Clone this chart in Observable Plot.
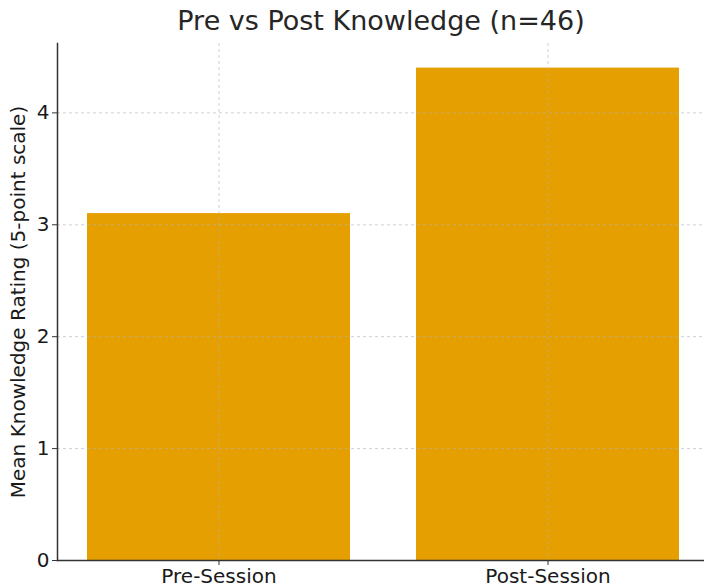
<!DOCTYPE html>
<html>
<head>
<meta charset="utf-8">
<script src="https://cdn.jsdelivr.net/npm/d3@7"></script>
<script src="https://cdn.jsdelivr.net/npm/@observablehq/plot@0.6"></script>
<style>
  html, body { margin: 0; padding: 0; background: #fff; }
  #chart svg { display: block; }
</style>
</head>
<body>
<div id="chart"></div>
<script>
const categories = ["Pre-Session", "Post-Session"];
const means = [3.1, 4.4];
const yTicks = [0, 1, 2, 3, 4];
const title = "Pre vs Post Knowledge (n=46)";
const yLabel = "Mean Knowledge Rating (5-point scale)";

const data = categories.map((c, i) => ({session: c, mean: means[i]}));
const font = "DejaVu Sans, sans-serif";

const chart = Plot.plot({
  width: 704,
  height: 588,
  marginTop: 43,
  marginBottom: 28,
  marginLeft: 57,
  marginRight: 0,
  style: {fontFamily: font, fontSize: "20px", color: "#1a1a1a", background: "#fff"},
  x: {domain: categories, range: [57, 709], paddingInner: 0.2, paddingOuter: 0.09, align: 0.5, label: null},
  y: {domain: [0, 4.62], range: [560, 43], label: null},
  marks: [
    Plot.barY(data, {x: "session", y: "mean", fill: "#E69F00"}),
    Plot.gridY(yTicks, {stroke: "#b0b0b0", strokeOpacity: 0.6, strokeDasharray: "3,3", strokeWidth: 1}),
    Plot.gridX(categories, {stroke: "#b0b0b0", strokeOpacity: 0.6, strokeDasharray: "3,3", strokeWidth: 1}),
    Plot.axisY(yTicks, {tickSize: 5, tickPadding: 3, fontSize: 20, label: null, stroke: "#333", tickFormat: d3.format("d")}),
    Plot.axisX(categories, {tickSize: 5, tickPadding: 3, fontSize: 20, label: null, stroke: "#333"}),
    Plot.ruleY([0], {stroke: "#333", strokeWidth: 1.5}),
    Plot.frame({anchor: "left", stroke: "#333", strokeWidth: 1.5}),
    Plot.text([title], {frameAnchor: "top", dy: -22, fontSize: 27, fill: "#262626", lineAnchor: "middle"}),
    Plot.text([yLabel], {frameAnchor: "left", dx: -39, rotate: -90, textAnchor: "middle", lineAnchor: "middle", fontSize: 20, fill: "#1a1a1a"})
  ]
});
document.getElementById("chart").appendChild(chart);
</script>
</body>
</html>
